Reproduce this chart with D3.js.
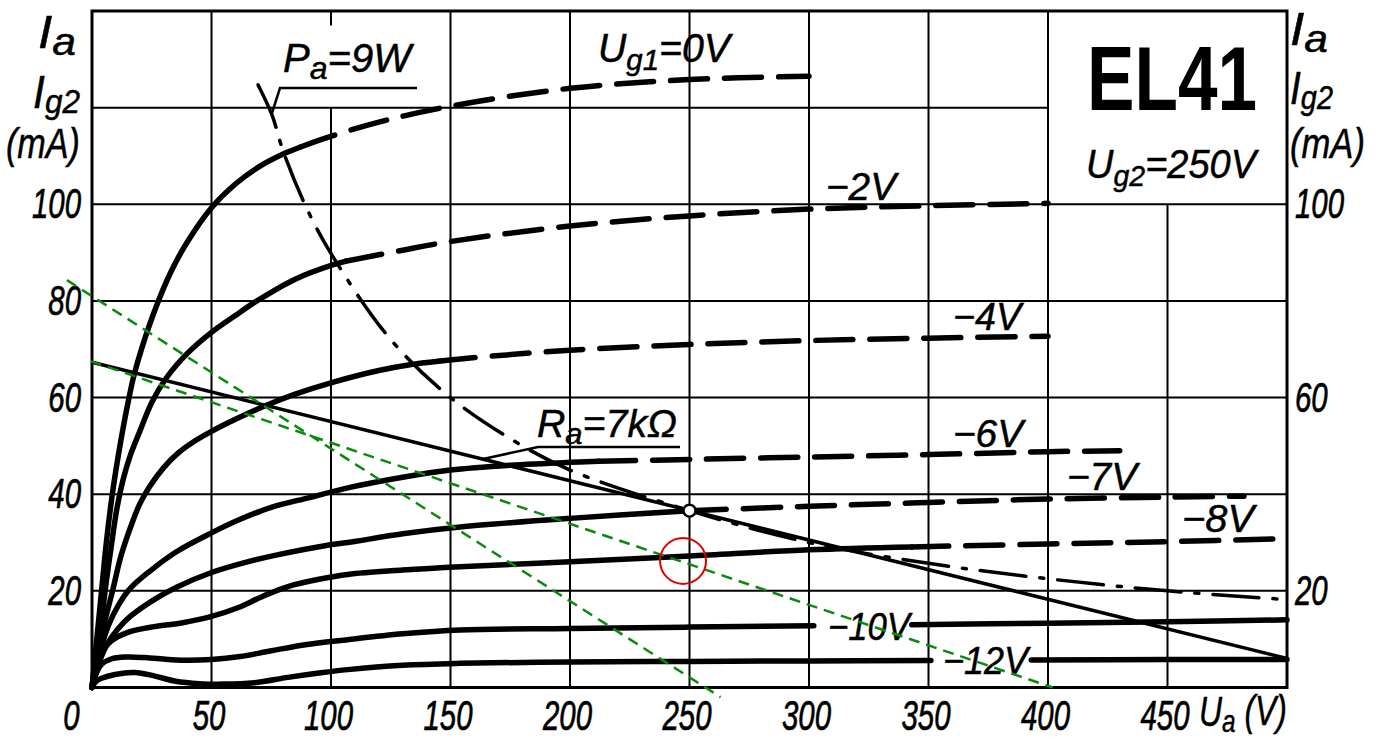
<!DOCTYPE html>
<html><head><meta charset="utf-8">
<script src="https://cdn.jsdelivr.net/npm/d3@7"></script>
<style>html,body{margin:0;padding:0;background:#fff;}svg{display:block;}</style>
</head><body>
<svg id="chart" width="1384" height="742"></svg>
<script>
// ---------------- data ----------------
const xTicks = [0, 50, 100, 150, 200, 250, 300, 350, 400, 450];
const yTicksLeft = [20, 40, 60, 80, 100];
const yTicksRight = [20, 60, 100];
const gridV = [50, 100, 150, 200, 250, 300, 350, 400, 450];
const gridVTop = [140, 120, 140, 140, 140, 140, 140, 140, 100];
const gridH = [20, 40, 60, 80, 100, 120];
const gridHEnd = [500, 500, 500, 500, 500, 400];

// anode current Ia (mA) vs Ua (V) for each Ug1
const ug1_0V = [[0,0],[2,10],[4,20],[6,30],[8.5,40],[11,48],[13.5,55],[15.5,60],[17.5,64.5],[21,70.5],[27,79],[33,86],[40,92.3],[50,99.3],[60,104.2],[70,107.8],[80,110.4],[87,111.8],[97,113.6],[120,117],[150,120.3],[200,124],[250,125.8],[300,126.5]];
const ug1_m2V = [[0,0],[2,7],[4,14],[6,22],[8,29],[10.4,37],[13,43],[16,48],[20,53],[25,59],[31,64],[40,69.2],[50,73.5],[60,77],[69,80],[85,84.5],[101,87.5],[106,88.2],[130,90.5],[150,92.3],[200,95.5],[250,97.6],[300,99],[350,99.7],[400,100.2]];
const ug1_m4V = [[0,0],[2,6],[4,11],[6,15],[8.6,20],[12,27],[16,33],[20,38],[24,41.5],[30,45.5],[36,48.5],[43,51],[50,53],[60,55.5],[72,58.2],[85,60.7],[101,63.2],[120,65.6],[133,66.8],[145,67.5],[154,68],[200,69.8],[250,71],[300,71.8],[350,72.3],[400,72.7]];
const ug1_m6V = [[0,0],[2,4.5],[4,8.5],[7,13],[11,17],[16,20.5],[24,24],[35,28],[50,32],[62,34.8],[75,37.3],[91,39.3],[107,41.3],[130,43.5],[150,45],[175,46],[200,46.6],[212,46.8],[250,47.2],[300,47.7],[350,48.2],[400,48.8],[430,49]];
const ug1_m7V = [[0,0],[2,3.5],[4,6.5],[7,9.5],[11,12.2],[16,14.7],[26,18.2],[35.6,20.8],[50,23.8],[65,26],[77,27.4],[98,29.4],[107,30],[130,31.8],[154,33.2],[200,35],[250,36.6],[300,37.5],[350,38.3],[400,39],[450,39.4],[482,39.6]];
const ug1_m8V = [[0,0],[1.5,4],[4,7.3],[8,9.6],[15,11.4],[26,12.6],[38,13.4],[50,14.7],[61,16.5],[72,19],[82,20.9],[95,22.4],[107,23.4],[130,24.3],[154,25],[200,26],[250,27.2],[300,28.5],[343,29.1],[400,29.7],[450,30.2],[500,30.8]];
const ug1_m10V = [[0,0],[1.5,2.6],[4,4.8],[8,5.9],[14,6.3],[22,6.2],[35,5.7],[50,5.8],[62,6.4],[75,7.6],[90,8.9],[107,9.9],[130,11.1],[154,11.9],[200,12.2],[250,12.5],[302,12.8],[320,null],[343,13],[400,13.3],[450,13.6],[500,14]];
const ug1_m12V = [[0,0],[1.5,1.2],[4,1.9],[9.6,2.7],[18,3.1],[26,2.4],[35,1.3],[45,0.8],[55,0.7],[68,1],[82,2.1],[95,3],[107,3.7],[130,4.6],[154,5],[200,5.3],[250,5.4],[300,5.5],[351,5.6],[372,null],[393,5.7],[450,5.8],[500,5.8]];

const curves = [ug1_0V, ug1_m2V, ug1_m4V, ug1_m6V, ug1_m7V, ug1_m8V, ug1_m10V, ug1_m12V];
const curveNames = ["0V", "−2V", "−4V", "−6V", "−7V", "−8V", "−10V", "−12V"];
const solidUntil = [87, 106, 145, 212, 250, 343, null, null];   // measured dash start (V)

const pa9W = [[69.5,124.7],[75.3,118.5],[80,111],[90,99],[101,89],[125,72],[150,60],[175,51.5],[200,45],[250,36.6],[300,30],[350,25.7],[400,22.5],[450,20],[500,18.2]];
const loadLine = [[0,67.3],[500,6]];
const opPoint = [[250,36.6]];
const greenLine1 = [[-10.5,84.3],[263,-2]];
const greenLine2 = [[-0.5,67.5],[402,0]];
const redMark = [[247.3,26.2]];

// ---------------- drawing ----------------
const svg = d3.select("#chart");
const x = d3.scaleLinear().domain([0, 500]).range([92, 1287]);
const y = d3.scaleLinear().domain([0, 140]).range([687.5, 11]);
const FONT = "'Liberation Sans', Arial, sans-serif";

// grid
const grid = svg.append("g").attr("stroke", "#000").attr("stroke-width", 2);
grid.selectAll("line.v").data(gridV).join("line").attr("class", "v")
  .attr("x1", d => x(d)).attr("x2", d => x(d))
  .attr("y1", y(0)).attr("y2", (d, i) => y(gridVTop[i]));
grid.append("line").attr("x1", x(100)).attr("x2", x(100)).attr("y1", y(140)).attr("y2", y(137));
grid.selectAll("line.h").data(gridH).join("line").attr("class", "h")
  .attr("y1", d => y(d)).attr("y2", d => y(d))
  .attr("x1", x(0)).attr("x2", (d, i) => x(gridHEnd[i]));

// frame
svg.append("rect").attr("x", x(0)).attr("y", y(140))
  .attr("width", x(500) - x(0)).attr("height", y(0) - y(140))
  .attr("fill", "none").attr("stroke", "#000").attr("stroke-width", 3);

const line = d3.line().defined(d => d[1] !== null).x(d => x(d[0])).y(d => y(d[1])).curve(d3.curveCatmullRom.alpha(0.5));

// characteristic curves
const cg = svg.append("g").attr("fill", "none").attr("stroke", "#000")
  .attr("stroke-width", 5.5).attr("stroke-linecap", "round").attr("stroke-linejoin", "round");
curves.forEach((pts, i) => {
  const s = solidUntil[i];
  if (s === null) {
    cg.append("path").attr("d", line(pts));
  } else {
    cg.append("path").attr("d", line(pts.filter(p => p[0] <= s)));
    cg.append("path").attr("d", line(pts.filter(p => p[0] >= s)))
      .attr("stroke-dasharray", "37,17");
  }
});

// Pa = 9W hyperbola
svg.append("path").attr("d", line(pa9W)).attr("fill", "none").attr("stroke", "#000")
  .attr("stroke-width", 3.5).attr("stroke-linecap", "round").attr("stroke-dasharray", "46,14,4,14");

// load line
svg.append("path").attr("d", d3.line().x(d => x(d[0])).y(d => y(d[1]))(loadLine))
  .attr("fill", "none").attr("stroke", "#000").attr("stroke-width", 3.5);

// annotation leader lines
const ann = svg.append("g").attr("stroke", "#000").attr("stroke-width", 2.5).attr("fill", "none");
ann.append("path").attr("d", "M272,113 L280,88 L417,88");
ann.append("path").attr("d", "M483,459 L538,447 L680,447");

// operating point
svg.selectAll("circle.op").data(opPoint).join("circle").attr("class", "op")
  .attr("cx", d => x(d[0])).attr("cy", d => y(d[1])).attr("r", 6)
  .attr("fill", "#fff").attr("stroke", "#000").attr("stroke-width", 2.5);

// axes (tick labels)
function styleTicks(g, dx, dy, sx) {
  g.select(".domain").remove();
  g.attr("font-family", FONT).attr("font-size", 42).attr("font-style", "italic");
  g.selectAll(".tick text").attr("fill", "#000").attr("stroke", "#000").attr("stroke-width", 0.7)
    .attr("x", 0).attr("y", 0)
    .attr("transform", d => `translate(${typeof dx === "function" ? dx(d) : dx},${dy}) scale(${sx},1)`);
}
svg.append("g").attr("transform", `translate(${x(0)},0)`)
  .call(d3.axisLeft(y).tickValues(yTicksLeft).tickSize(0).tickFormat(d3.format("d")))
  .call(g => styleTicks(g, -11, 0, 0.7));
svg.append("g").attr("transform", `translate(${x(500)},0)`)
  .call(d3.axisRight(y).tickValues(yTicksRight).tickSize(0).tickFormat(d3.format("d")))
  .call(g => styleTicks(g, 8, 0, 0.7));
svg.append("g").attr("transform", `translate(0,${y(0)})`)
  .call(d3.axisBottom(x).tickValues(xTicks).tickSize(0).tickFormat(d3.format("d")))
  .call(g => styleTicks(g, d => d === 0 ? -21 : -3, 13, 0.7));

// text labels
function label(px, py, parts, width, opts = {}) {
  const t = svg.append("text").attr("font-family", FONT)
    .attr("font-style", opts.upright ? "normal" : "italic")
    .attr("font-weight", opts.bold ? "bold" : "normal").attr("fill", "#000");
  if (!opts.bold) t.attr("stroke", "#000").attr("stroke-width", 0.5);
  parts.forEach(([s, size, dy]) => t.append("tspan").text(s).attr("font-size", size).attr("dy", dy));
  const w = t.node().getComputedTextLength();
  const sx = width ? width / w : 1;
  t.attr("transform", `translate(${px},${py}) scale(${sx},1)`);
}
// axis titles
label(38, 48, [["I", 46, 0], ["a", 38, 7]], 38);
label(33, 108, [["I", 46, 0], ["g2", 34, 5]], 47);
label(6, 158, [["(mA)", 42, 0]], 74);
label(1290, 45, [["I", 46, 0], ["a", 38, 7]], 38);
label(1290, 104, [["I", 46, 0], ["g2", 34, 5]], 43);
label(1290, 158, [["(mA)", 42, 0]], 75);
label(1199, 726, [["U", 42, 0], ["a", 32, 6], [" (V)", 42, -7]], 88);
// curve labels
label(598, 62, [["U", 40, 0], ["g1", 30, 8], ["=0V", 40, -8]], 132);
label(283, 72, [["P", 40, 0], ["a", 32, 7], ["=9W", 40, -7]], 128);
label(537, 437, [["R", 38, 0], ["a", 30, 7], ["=7kΩ", 38, -7]], 140);
label(1086, 178, [["U", 40, 0], ["g2", 30, 8], ["=250V", 40, -8]], 170);
label(1087, 110, [["EL41", 90, 0]], 170, { upright: true, bold: true });
const volLabelPos = [[826, 200, 70], [953, 330, 68], [953, 447, 70], [1067, 490, 70], [1182, 532, 72], [828, 640, 82], [943, 674, 85]];
curveNames.slice(1).forEach((n, i) => {
  const [px, py, w] = volLabelPos[i];
  label(px, py, [[n, 38, 0]], w);
});

// green construction lines and red mark (on top)
const gl = d3.line().x(d => x(d[0])).y(d => y(d[1]));
[greenLine1, greenLine2].forEach(l => {
  svg.append("path").attr("d", gl(l)).attr("fill", "none").attr("stroke", "#0a8a0a")
    .attr("stroke-width", 2.5).attr("stroke-dasharray", "11,7");
});
svg.selectAll("circle.red").data(redMark).join("circle").attr("class", "red")
  .attr("cx", d => x(d[0])).attr("cy", d => y(d[1])).attr("r", 23)
  .attr("fill", "none").attr("stroke", "#e00000").attr("stroke-width", 2);
</script>
</body></html>
